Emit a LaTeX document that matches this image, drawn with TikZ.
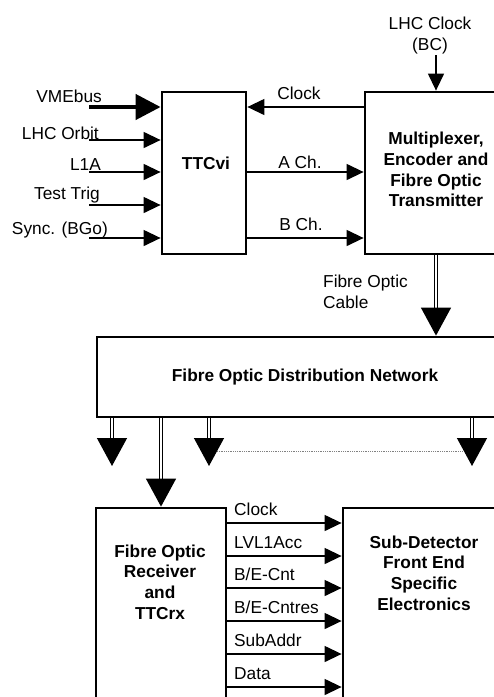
\documentclass[tikz,border=0pt]{standalone}
\usepackage{fontspec}
\setmainfont{Liberation Sans}
\usepackage{tikz}
\usetikzlibrary{arrows.meta, positioning, calc}
\tikzstyle{block} = [rectangle, draw=black, line width=2.8pt, text centered, align=center, font=\fontsize{17.3}{20.7}\selectfont\bfseries]
\tikzstyle{blocktext} = [inner sep=0pt, align=center, font=\fontsize{17.3}{20.7}\selectfont\bfseries]
\tikzstyle{signame} = [inner sep=0pt, text height=12.4pt, text depth=0pt, font=\fontsize{17.3}{20.7}\selectfont]
\tikzstyle{note} = [inner sep=0pt, font=\fontsize{17.3}{21}\selectfont]
\tikzstyle{arrow} = [line width=1.3pt, -{Triangle[length=17pt,width=16pt]}]
\tikzstyle{busarrow} = [line width=4.4pt, -{Triangle[length=25pt,width=25pt]}]
\tikzstyle{fibre} = [double, double distance=2.2pt, line width=1.3pt, -{Triangle[length=28pt,width=30pt]}]

\begin{document}
\begin{tikzpicture}[x=1pt, y=-1pt]
\clip (0,0) rectangle (494,697);

\node (ttcvi) [block, minimum width=84pt, minimum height=162pt] at (204,173) {};
\node (ttcvitxt) [blocktext] at (206,163) {TTCvi};
\node (mux) [block, minimum width=142pt, minimum height=162pt] at (436,173) {};
\node (muxtxt) [blocktext] at (436,169.5) {Multiplexer,\\Encoder and\\Fibre Optic\\Transmitter};
\node (net) [block, minimum width=416pt, minimum height=80pt] at (305,377) {Fibre Optic Distribution Network};
\node (rx) [block, minimum width=130pt, minimum height=212pt] at (161,614) {};
\node (rxtxt) [blocktext] at (160,582) {Fibre Optic\\Receiver\\and\\TTCrx};
\node (fe) [block, minimum width=162pt, minimum height=212pt] at (424,614) {};
\node (fetxt) [blocktext] at (424,573) {Sub-Detector\\Front End\\Specific\\Electronics};

\coordinate (vme) at (89,107);
\coordinate (orbit) at (89,140);
\coordinate (lone) at (89,172);
\coordinate (trig) at (89,205);
\coordinate (sync) at (89,238);
\node (vmelbl) [signame, anchor=east] at (102,96) {VMEbus};
\node (orbitlbl) [signame, anchor=east] at (99,133) {LHC Orbit};
\node (lonelbl) [signame, anchor=east] at (101,164) {L1A};
\node (triglbl) [signame, anchor=east] at (100,193) {Test Trig};
\node (synclbl) [signame, anchor=east] at (108,228) {Sync. (BGo)};

\draw [busarrow] (vme) -- (vme -| ttcvi.west);
\foreach \c in {orbit, lone, trig, sync}
  \draw [arrow] (\c) -- (\c -| ttcvi.west);

\draw [arrow] (mux.west |- vme) -- (ttcvi.east |- vme);
\draw [arrow] (ttcvi.east |- lone) -- (mux.west |- lone);
\draw [arrow] (ttcvi.east |- sync) -- (mux.west |- sync);
\node (clklbl) [signame] at (299,93) {Clock};
\node (achlbl) [signame] at (300,162) {A Ch.};
\node (bchlbl) [signame] at (301,224) {B Ch.};

\node (lhc) [note, align=center] at (430,35.5) {LHC Clock\\(BC)};
\coordinate (bc) at (436,55);
\draw [arrow] (bc) -- (mux.north);

\draw [fibre] (mux.south) -- (mux.south |- net.north);
\node (cablelbl) [note, align=left, anchor=west] at (323,292) {Fibre Optic\\Cable};

\coordinate (fo1) at (112,466);
\coordinate (fo3) at (209,466);
\coordinate (fo4) at (472,466);
\foreach \c in {fo1, fo3, fo4}
  \draw [fibre] (net.south -| \c) -- (\c);
\draw [fibre] (net.south -| rx.north) -- (rx.north);
\draw [densely dotted, gray, line width=0.8pt] ($(fo3)+(8,-15)$) -- ($(fo4)+(-9,-15)$);

\foreach \y/\txt in {523/Clock, 556/LVL1Acc, 588/{B/E-Cnt}, 621/{B/E-Cntres}, 654/SubAddr, 687/Data} {
  \coordinate (s\y) at (0,\y);
  \draw [arrow] (rx.east |- s\y) -- (fe.west |- s\y);
  \node (sig\y) [signame, anchor=west] at (234,\y-14) {\txt};
}

\end{tikzpicture}
\end{document}
